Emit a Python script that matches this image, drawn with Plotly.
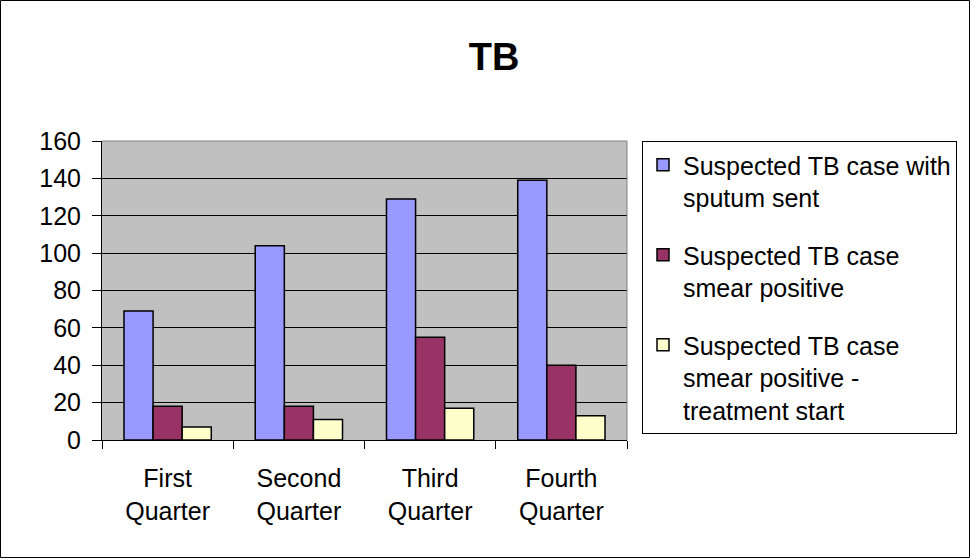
import plotly.graph_objects as go

categories = ["First<br>Quarter", "Second<br>Quarter", "Third<br>Quarter", "Fourth<br>Quarter"]
series_names = [
    "Suspected TB case with<br>sputum sent",
    "Suspected TB case<br>smear positive",
    "Suspected TB case<br>smear positive -<br>treatment start",
]
sputum_sent = [69, 104, 129, 139]
smear_positive = [18, 18, 55, 40]
treatment_start = [7, 11, 17, 13]
colors = ["#9999FF", "#993366", "#FFFFCC"]
y_ticks = [0, 20, 40, 60, 80, 100, 120, 140, 160]

W, H = 970, 558
L, R, T, B = 102, 627, 141, 440
pw, ph = R - L, B - T

FONT = "Liberation Sans, Arial, sans-serif"

fig = go.Figure()
for i, (name, vals) in enumerate(zip(series_names, [sputum_sent, smear_positive, treatment_start])):
    fig.add_trace(go.Bar(
        x=categories, y=vals, name=name, legendgroup=f"g{i}",
        marker=dict(color=colors[i], line=dict(color="black", width=1.5)),
    ))

def px_x(p):
    return (p - L) / pw

def px_y(p):
    return (B - p) / ph

fig.update_layout(
    width=W, height=H,
    margin=dict(l=L, r=W - R, t=T, b=H - B),
    paper_bgcolor="white",
    plot_bgcolor="#C0C0C0",
    barmode="group",
    bargap=0.335,
    bargroupgap=0,
    font=dict(family=FONT, size=25, color="black"),
    title=dict(text="<b>TB</b>", x=494 / W, xref="container", xanchor="center",
               y=1 - 57 / H, yref="container", yanchor="middle",
               font=dict(family=FONT, size=38, color="black")),
    legend=dict(
        x=px_x(642), y=px_y(141), xanchor="left", yanchor="top",
        bgcolor="white", bordercolor="black", borderwidth=1,
        font=dict(family=FONT, size=25, color="black"),
        valign="top", tracegroupgap=22, traceorder="grouped",
    ),
    showlegend=True,
)
fig.update_yaxes(
    range=[0, 160], tickvals=y_ticks, ticktext=[str(v) for v in y_ticks],
    showgrid=True, gridcolor="black", gridwidth=1,
    showline=True, linecolor="black", linewidth=1,
    ticks="outside", ticklen=9, tickcolor="black", ticklabelstandoff=6,
    zeroline=False,
    tickfont=dict(family=FONT, size=25),
)
fig.update_xaxes(
    showline=True, linecolor="black", linewidth=1,
    ticks="outside", ticklen=8, tickcolor="black", tickson="boundaries",
    tickfont=dict(family=FONT, size=25), ticklabelstandoff=16,
)
# plot-area top/right border (grey) and outer chart frame
fig.add_shape(type="line", xref="paper", yref="paper", x0=0, x1=1, y0=1, y1=1,
              line=dict(color="#808080", width=1), layer="above")
fig.add_shape(type="line", xref="paper", yref="paper", x0=1, x1=1, y0=0, y1=1,
              line=dict(color="#808080", width=1), layer="above")
fig.add_shape(type="rect", xref="paper", yref="paper",
              x0=px_x(0.5), x1=px_x(W - 0.5), y0=px_y(H - 0.5), y1=px_y(0.5),
              line=dict(color="black", width=1), fillcolor="rgba(0,0,0,0)", layer="above")

fig.write_html(
    "out.html",
    config={"displayModeBar": False},
    post_script="document.body.style.margin='0';document.body.style.overflow='hidden';"
                "document.documentElement.style.overflow='hidden';",
)
